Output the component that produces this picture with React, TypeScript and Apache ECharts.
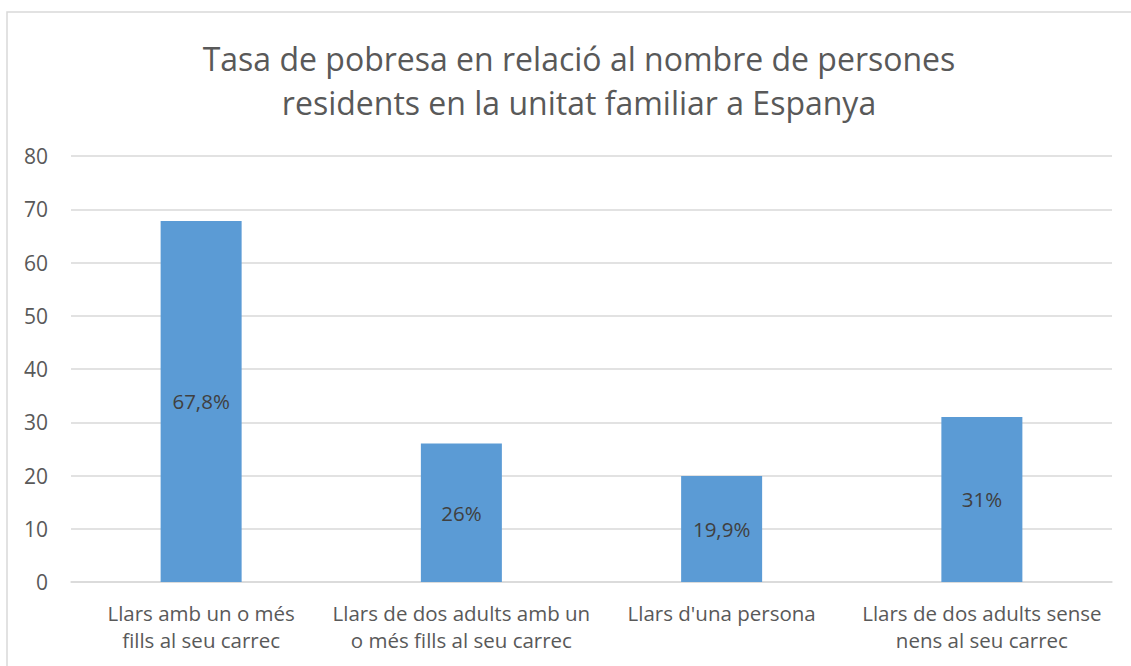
import React, { useEffect, useRef } from "react";
import * as echarts from "echarts";

const titleText = "Tasa de pobresa en relació al nombre de persones\nresidents en la unitat familiar a Espanya";
const categories = [
  "Llars amb un o més\nfills al seu carrec",
  "Llars de dos adults amb un\no més fills al seu carrec",
  "Llars d'una persona",
  "Llars de dos adults sense\nnens al seu carrec",
];
const values = [67.8, 26, 19.9, 31];
const yTicks = { min: 0, max: 80, interval: 10 };

const FONT = "'Open Sans', 'Noto Sans', sans-serif";

export default function App() {
  const ref = useRef<HTMLDivElement>(null);
  useEffect(() => {
    if (!ref.current) return;
    const chart = echarts.init(ref.current, null, { renderer: "svg" });
    chart.setOption({
      animation: false,
      backgroundColor: "#ffffff",
      textStyle: { fontFamily: FONT },
      graphic: [
        {
          type: "rect",
          shape: { x: 7, y: 12, width: 1300, height: 800 },
          style: { fill: "none", stroke: "#d9d9d9", lineWidth: 1.5 },
          silent: true,
          z: -10,
        },
      ],
      title: {
        text: titleText,
        left: 574,
        textAlign: "center",
        top: 31,
        textStyle: {
          fontFamily: FONT,
          fontSize: 32,
          fontWeight: "normal",
          color: "#595959",
          lineHeight: 44,
        },
      },
      grid: { left: 71, right: 19, top: 156, bottom: 84, containLabel: false },
      xAxis: {
        type: "category",
        data: categories,
        axisLine: { show: true, lineStyle: { color: "#d9d9d9", width: 1.5 } },
        axisTick: { show: false },
        axisLabel: {
          color: "#595959",
          fontSize: 20.5,
          fontFamily: FONT,
          lineHeight: 27,
          margin: 17,
          interval: 0,
        },
      },
      yAxis: {
        type: "value",
        min: yTicks.min,
        max: yTicks.max,
        interval: yTicks.interval,
        axisLine: { show: false },
        axisTick: { show: false },
        splitLine: { lineStyle: { color: "#d9d9d9", width: 1.5 } },
        axisLabel: { color: "#595959", fontSize: 21, fontFamily: FONT, margin: 23 },
      },
      series: [
        {
          type: "bar",
          data: values,
          barWidth: 81,
          itemStyle: { color: "#5b9bd5" },
          label: {
            show: true,
            position: "inside",
            color: "#404040",
            fontSize: 20.5,
            fontFamily: FONT,
            formatter: (p: any) => String(p.value).replace(".", ",") + "%",
          },
        },
      ],
    });
    return () => chart.dispose();
  }, []);
  return (
    <div
      ref={ref}
      style={{ position: "fixed", left: 0, top: 0, width: 1131, height: 666 }}
    />
  );
}
